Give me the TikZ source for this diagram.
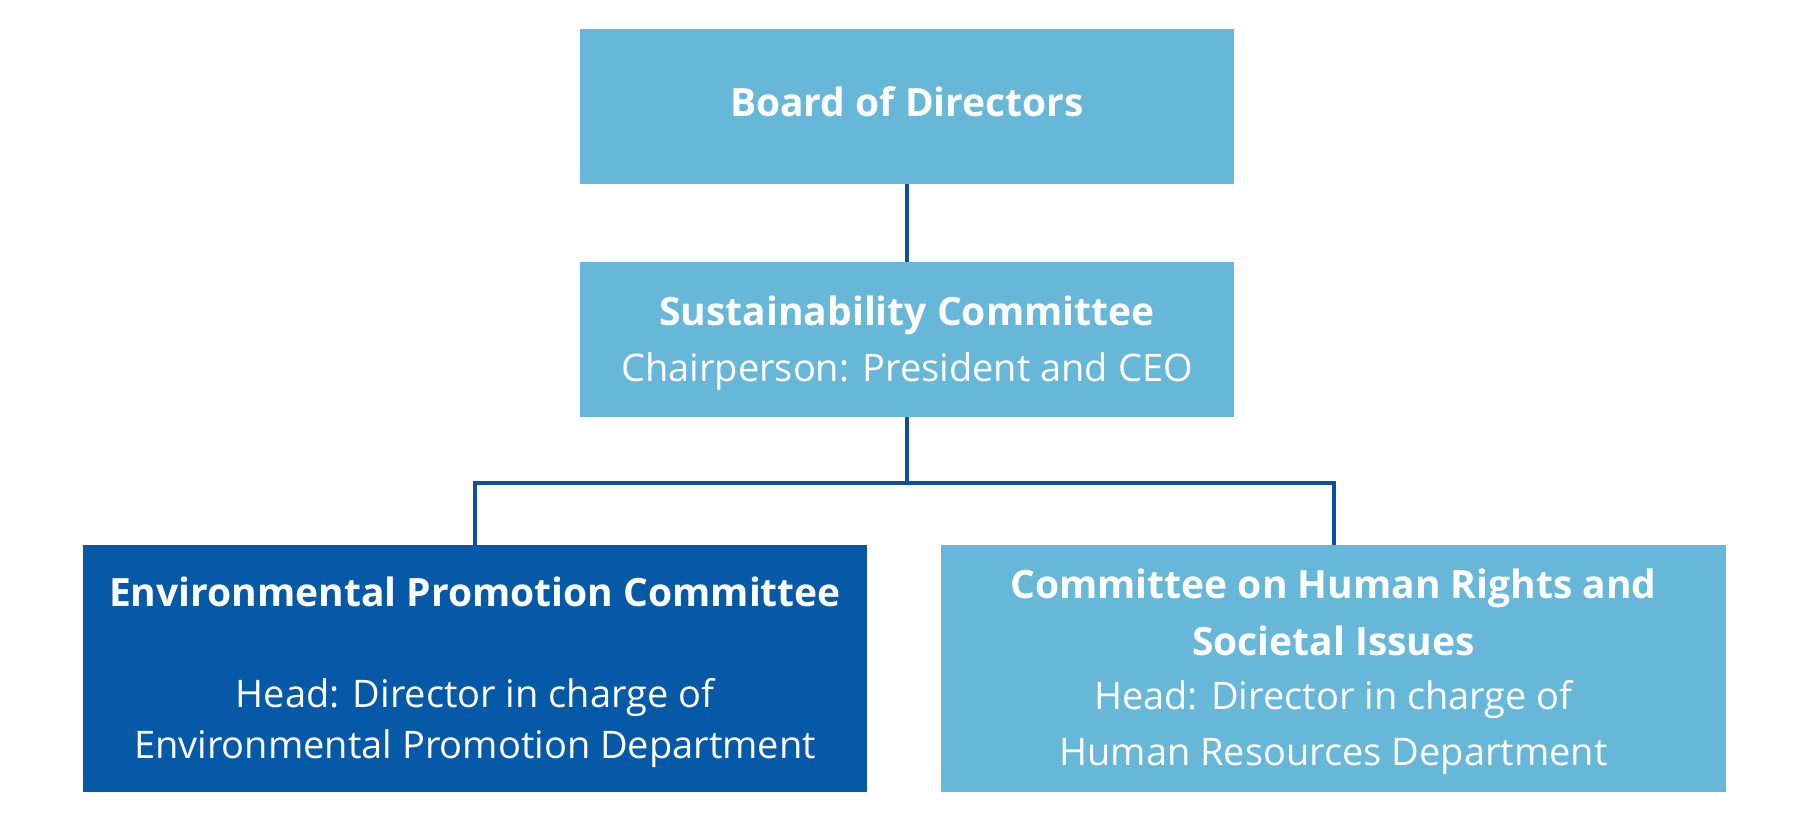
\documentclass[tikz,border=0pt]{standalone}
\usepackage{fontspec}
\setmainfont{Open Sans}
\definecolor{lightblue}{HTML}{66B7D8}
\definecolor{darkblue}{HTML}{0559A6}
\definecolor{linkblue}{HTML}{0D4F9E}
\begin{document}
\begin{tikzpicture}[x=1pt,y=-1pt,
  box/.style={rectangle,inner sep=0pt,outer sep=0pt,draw=none},
  lbox/.style={box,fill=lightblue},
  dbox/.style={box,fill=darkblue},
  txt/.style={anchor=base,inner sep=0pt,text=white,font=\fontsize{38}{46}\selectfont},
  txtb/.style={anchor=base,inner sep=0pt,text=white,font=\fontsize{39}{47}\selectfont\bfseries},
  link/.style={draw=linkblue,line width=4pt}]
\useasboundingbox (0,0) rectangle (1800,824);
\fill[white] (0,0) rectangle (1800,824);
% boxes
\node[lbox,minimum width=654pt,minimum height=155pt] (board) at (907,106.5) {};
\node[lbox,minimum width=654pt,minimum height=155pt] (sust) at (907,339.5) {};
\node[dbox,minimum width=784pt,minimum height=247pt] (env) at (475,668.5) {};
\node[lbox,minimum width=785pt,minimum height=247pt] (hr) at (1333.5,668.5) {};
% connectors
\coordinate (j) at (907,483);
\draw[link] (board.south) -- (sust.north);
\draw[link] (sust.south) -- (j);
\draw[link] (env.north) -- (env.north |- j) -- (hr.north |- j) -- (hr.north);
% texts
\node[txtb] (t1) at (907,117) {Board of Directors};
\node[txtb] (t2) at (907,325) {Sustainability Committee};
\node[txt] (t3) at (907,381) {Chairperson: President and CEO};
\node[txtb] (t4) at (475,606) {Environmental Promotion Committee};
\node[txt] (t5) at (475,707) {Head: Director in charge of};
\node[txt] (t6) at (475,758) {Environmental Promotion Department};
\node[txtb] (t7) at (1333.5,598) {Committee on Human Rights and};
\node[txtb] (t8) at (1333.5,655) {Societal Issues};
\node[txt] (t9) at (1333.5,709) {Head: Director in charge of};
\node[txt] (t10) at (1333.5,765) {Human Resources Department};
\end{tikzpicture}
\end{document}
